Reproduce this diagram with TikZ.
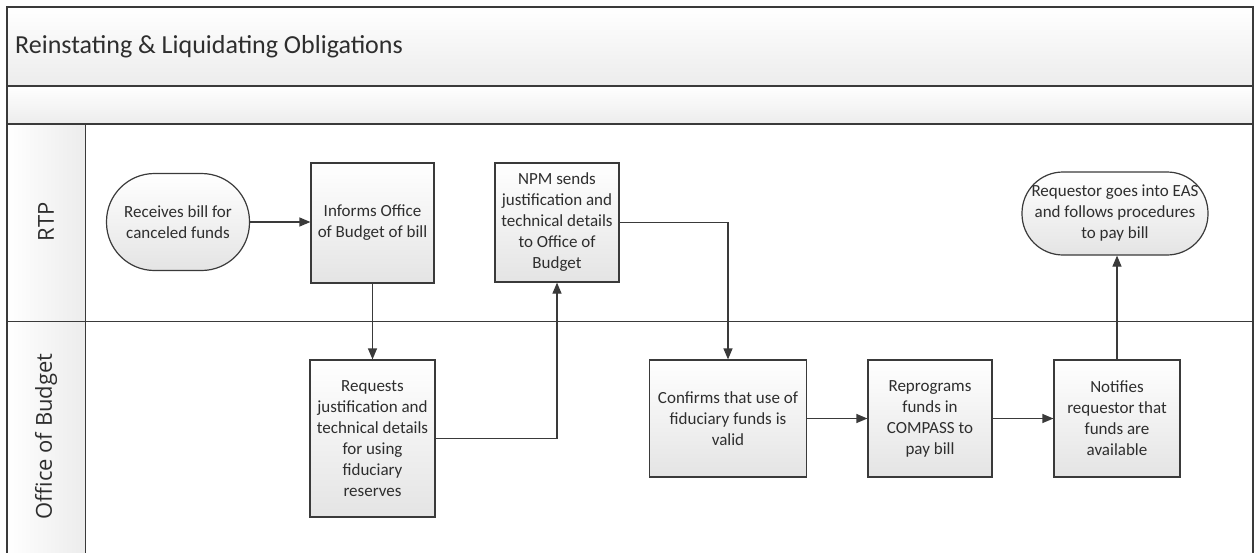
\documentclass[tikz,border=0pt]{standalone}
\usepackage{fontspec}
\setmainfont{Carlito}
\newfontfamily\lanefont{Open Sans}
\usetikzlibrary{arrows.meta,calc}
\definecolor{lineC}{HTML}{3A3A3A}
\definecolor{textC}{HTML}{2E2E2E}
\definecolor{shadeC}{HTML}{E4E4E4}
\definecolor{bandC}{HTML}{ECECEC}
\tikzset{
  frameline/.style={draw=lineC, line width=1.3pt},
  procbox/.style={draw=lineC, line width=1.2pt, top color=white, bottom color=shadeC,
    text=textC, align=center, inner sep=0pt, font=\fontsize{17}{21}\selectfont},
  termbox/.style={procbox},
  conn/.style={draw=lineC, line width=1.2pt, -{Triangle[length=11pt,width=9pt]}},
  lanelabel/.style={text=textC, font=\lanefont\fontsize{22}{26}\selectfont, rotate=90},
}
\begin{document}
\begin{tikzpicture}[x=1pt,y=-1pt]
\useasboundingbox (0,0) rectangle (1256,552);
% bands
\shade[top color=white, bottom color=bandC] (7,7) rectangle (1253,86);
\shade[top color=white, bottom color=bandC] (7,86) rectangle (1253,124);
\shade[left color=white, right color=bandC] (7,124) rectangle (85.5,556);
% frame lines
\draw[frameline] (7,556) -- (7,7) -- (1253,7) -- (1253,556);
\draw[frameline] (7,86) -- (1253,86);
\draw[frameline] (7,124) -- (1253,124);
\draw[frameline] (7,321.5) -- (1253,321.5);
\draw[frameline] (85.5,124) -- (85.5,556);
% title and lane labels
\node[anchor=west, text=textC, font=\fontsize{26}{30}\selectfont, inner sep=0pt] (title) at (15,47) {Reinstating \& Liquidating Obligations};
\node[lanelabel] (rtp) at (46,222) {RTP};
\node[lanelabel] (ob) at (46,436.5) {Office of Budget};
% nodes
\node[termbox, minimum width=143pt, minimum height=97pt, rounded corners=48pt] (start) at (178,222) {Receives bill for\\canceled funds};
\node[procbox, minimum width=123pt, minimum height=120pt] (informs) at (372.5,223) {Informs Office\\of Budget of bill};
\node[procbox, minimum width=124pt, minimum height=119pt] (npm) at (557,222.5) {NPM sends\\justification and\\technical details\\to Office of\\Budget};
\node[procbox, minimum width=125pt, minimum height=157pt] (requests) at (372.5,438.5) {Requests\\justification and\\technical details\\for using\\fiduciary\\reserves};
\node[procbox, minimum width=157pt, minimum height=117pt] (confirms) at (728,418.5) {Confirms that use of\\fiduciary funds is\\valid};
\node[procbox, minimum width=124pt, minimum height=117pt] (reprog) at (930,418.5) {Reprograms\\funds in\\COMPASS to\\pay bill};
\node[procbox, minimum width=126pt, minimum height=117pt] (notifies) at (1117,418.5) {Notifies\\requestor that\\funds are\\available};
\node[termbox, minimum width=186pt, minimum height=83pt, rounded corners=41pt] (requestor) at (1115,213.5) {Requestor goes into EAS\\and follows procedures\\to pay bill};
% connectors
\draw[conn] (start.east) -- (start.east -| informs.west);
\draw[conn] (informs.south) -- (requests.north);
\draw[conn] (requests.east) -| (npm.south);
\draw[conn] (npm.east) -| (confirms.north);
\draw[conn] (confirms.east) -- (reprog.west);
\draw[conn] (reprog.east) -- (notifies.west);
\draw[conn] (notifies.north) -- (notifies.north |- requestor.south);
\end{tikzpicture}
\end{document}
